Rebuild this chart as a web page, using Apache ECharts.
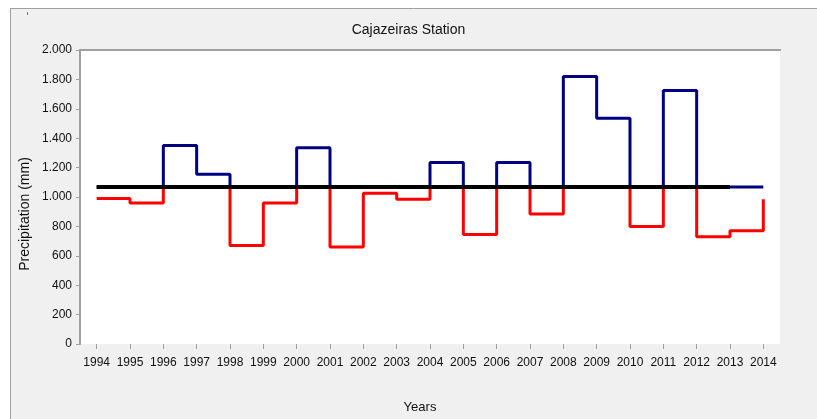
<!DOCTYPE html>
<html>
<head>
<meta charset="utf-8">
<script src="https://cdn.jsdelivr.net/npm/echarts@6/dist/echarts.min.js"></script>
<style>
  html, body { margin: 0; padding: 0; background: #fff; }
  #chart { width: 817px; height: 419px; }
</style>
</head>
<body>
<div id="chart"></div>
<script>
// anos e precipitação anual (mm)
const years = ['1994', '1995', '1996', '1997', '1998', '1999', '2000', '2001', '2002', '2003', '2004',
    '2005', '2006', '2007', '2008', '2009', '2010', '2011', '2012', '2013', '2014']
const precip = [990, 960, 1350, 1155, 670, 960, 1335, 660, 1025, 985, 1235,
    745, 1235, 885, 1820, 1535, 800, 1725, 730, 770, 985]
const meanValue = 1068
const yTicks = [0, 200, 400, 600, 800, 1000, 1200, 1400, 1600, 1800, 2000]

const font = "'Liberation Sans', Arial, sans-serif"
const grey = '#a0a0a0'

// parte acima / abaixo da média
const above = precip.map(v => Math.max(v, meanValue))
const below = precip.map(v => Math.min(v, meanValue))
// linha da média vai só até 2013
const meanLine = years.map((y, i) => (i < years.length - 1 ? meanValue : null))

function fmt(v) {
    if (v >= 1000) {
        return Math.floor(v / 1000) + '.' + String(v % 1000).padStart(3, '0')
    }
    return String(v)
}

const chart = echarts.init(document.getElementById('chart'))
chart.setOption({
    backgroundColor: '#f0f0f0',
    animation: false,
    title: {
        text: 'Cajazeiras Station',
        left: 'center',
        top: 23,
        padding: 0,
        textStyle: { fontFamily: font, fontSize: 14, fontWeight: 'normal', color: '#111' }
    },
    graphic: [
        { type: 'rect', shape: { x: 0, y: 0, width: 817, height: 8 }, style: { fill: '#fff' } },
        { type: 'rect', shape: { x: 0, y: 0, width: 10, height: 419 }, style: { fill: '#fff' } },
        { type: 'line', shape: { x1: 10, y1: 8.5, x2: 817, y2: 8.5 }, style: { stroke: grey, lineWidth: 1 } },
        { type: 'line', shape: { x1: 10.5, y1: 8, x2: 10.5, y2: 419 }, style: { stroke: grey, lineWidth: 1 } },
        { type: 'line', shape: { x1: 27.5, y1: 12, x2: 27.5, y2: 15 }, style: { stroke: '#777', lineWidth: 1 } },
        {
            type: 'text',
            x: 25, y: 214,
            rotation: Math.PI / 2,
            style: {
                text: 'Precipitation (mm)', font: '14px ' + font, fill: '#111',
                align: 'center', verticalAlign: 'middle'
            }
        },
        {
            type: 'text',
            x: 420, y: 407,
            style: {
                text: 'Years', font: '13px ' + font, fill: '#111',
                align: 'center', verticalAlign: 'middle'
            }
        }
    ],
    grid: {
        left: 80,
        top: 50,
        width: 700,
        height: 294,
        show: true,
        backgroundColor: '#fff',
        borderWidth: 0
    },
    xAxis: [
        {
            type: 'category',
            data: years,
            boundaryGap: true,
            axisLine: { show: false },
            axisTick: { show: true, alignWithLabel: true, length: 5, lineStyle: { color: grey } },
            axisLabel: { margin: 13, fontFamily: font, fontSize: 12, color: '#111', interval: 0 },
            splitLine: { show: false }
        },
        {
            type: 'category',
            data: years,
            position: 'top',
            axisLine: { show: true, lineStyle: { color: grey, width: 2 } },
            axisTick: { show: false },
            axisLabel: { show: false }
        }
    ],
    yAxis: {
        type: 'value',
        min: yTicks[0],
        max: yTicks[yTicks.length - 1],
        interval: 200,
        axisLine: { show: true, lineStyle: { color: grey, width: 2 } },
        axisTick: { show: true, length: 4, lineStyle: { color: grey } },
        axisLabel: { margin: 8, fontFamily: font, fontSize: 12, color: '#111', formatter: fmt },
        splitLine: { show: false }
    },
    series: [
        {
            type: 'line',
            step: 'end',
            data: below,
            symbol: 'none',
            lineStyle: { color: '#ff0000', width: 3 },
            z: 2
        },
        {
            type: 'line',
            step: 'end',
            data: above,
            symbol: 'none',
            lineStyle: { color: '#000080', width: 3 },
            z: 3
        },
        {
            type: 'line',
            data: meanLine,
            symbol: 'none',
            lineStyle: { color: '#000000', width: 4 },
            z: 4
        }
    ]
})
</script>
</body>
</html>
